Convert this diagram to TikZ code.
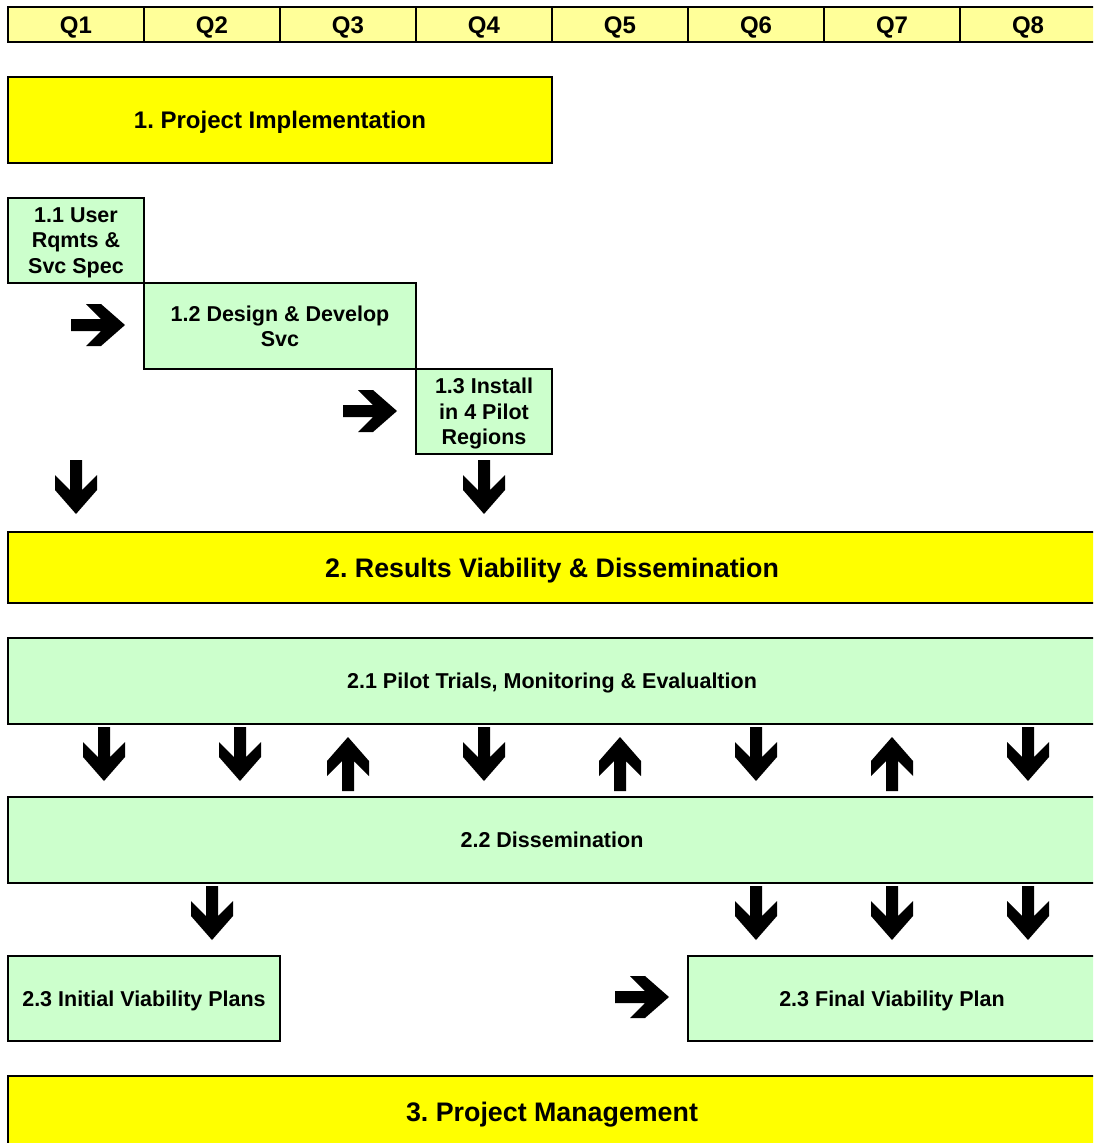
\documentclass[tikz,border=0pt]{standalone}
\usepackage{fontspec}
\setmainfont{Liberation Sans}
\frenchspacing
\definecolor{hdryel}{HTML}{FFFF99}
\definecolor{boxyel}{HTML}{FFFF00}
\definecolor{boxgrn}{HTML}{CCFFCC}
\tikzset{
  hdr/.style={draw=black, line width=2.5pt, fill=hdryel, minimum width=136pt, minimum height=35pt, inner sep=0pt},
  hdrtxt/.style={inner sep=0pt, font=\fontsize{24}{28}\selectfont\bfseries},
  ybox/.style={draw=black, line width=2.5pt, fill=boxyel, inner sep=0pt, text depth=0pt, font=\fontsize{26.8}{31}\selectfont\bfseries},
  gbox/.style={draw=black, line width=2pt, fill=boxgrn, inner sep=0pt, text depth=0pt, align=center, font=\fontsize{21.5}{25.5}\selectfont\bfseries},
  blockarrow/.pic={\fill[black] (-6,-27) -- (6,-27) -- (6,3) -- (21,-12) -- (21,3) -- (0,27) -- (-21,3) -- (-21,-12) -- (-6,3) -- cycle;}
}
\begin{document}
\begin{tikzpicture}[x=1pt,y=-1pt]
\useasboundingbox (0,0) rectangle (1093,1143);
\clip (0,0) rectangle (1093,1143);
\fill[white] (0,0) rectangle (1093,1143);
% header
\foreach \i in {1,...,8}{
  \node[hdr] (q\i) at ({76+136*(\i-1)},24.5) {};
  \node[hdrtxt] (qt\i) at ([yshift=-3pt]q\i.center) {Q\i};
}
% 1. Project Implementation
\node[ybox, minimum width=544pt, minimum height=86pt, font=\fontsize{24}{28}\selectfont\bfseries] (p1) at (280,120) {1. Project Implementation};
\node[gbox, minimum width=136pt, minimum height=85pt] (p11) at (76,240.5) {1.1 User\\Rqmts \&\\Svc Spec};
\node[gbox, minimum width=272pt, minimum height=86pt] (p12) at (280,326) {1.2 Design \& Develop\\Svc};
\node[gbox, minimum width=136pt, minimum height=85pt] (p13) at (484,411.5) {1.3 Install\\in 4 Pilot\\Regions};
\pic[rotate=90] at (98,325) {blockarrow};
\pic[rotate=90] at (370,411) {blockarrow};
\pic at (76,487) {blockarrow};
\pic at (484,487) {blockarrow};
% 2. Results
\node[ybox, minimum width=1088pt, minimum height=71pt] (p2) at (552,567.5) {2. Results Viability \& Dissemination};
\node[gbox, minimum width=1088pt, minimum height=86pt] (p21) at (552,681) {2.1 Pilot Trials, Monitoring \& Evalualtion};
\node[gbox, minimum width=1088pt, minimum height=86pt] (p22) at (552,840) {2.2 Dissemination};
\foreach \x in {104,240,484,756,1028}{ \pic at (\x,754) {blockarrow}; }
\foreach \x in {348,620,892}{ \pic[rotate=180] at (\x,764) {blockarrow}; }
\foreach \x in {212,756,892,1028}{ \pic at (\x,913) {blockarrow}; }
\node[gbox, minimum width=272pt, minimum height=85pt] (p23a) at (144,998.5) {2.3 Initial Viability Plans};
\node[gbox, minimum width=408pt, minimum height=85pt] (p23b) at (892,998.5) {2.3 Final Viability Plan};
\pic[rotate=90] at (642,997) {blockarrow};
% 3. Project Management
\node[ybox, minimum width=1088pt, minimum height=72pt] (p3) at (552,1112) {3. Project Management};
\end{tikzpicture}
\end{document}
